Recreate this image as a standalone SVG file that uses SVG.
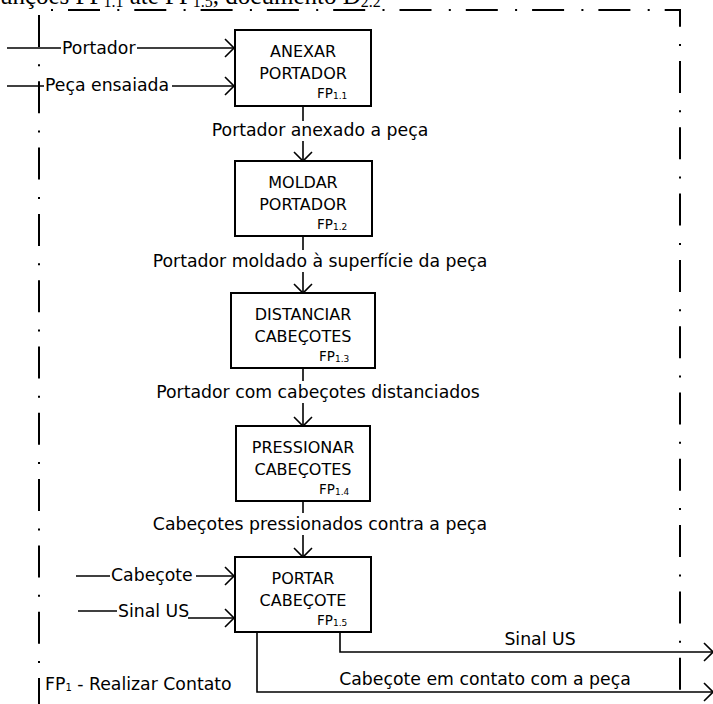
<svg xmlns="http://www.w3.org/2000/svg" width="713" height="704" viewBox="0 0 713 704">
  <defs>
    <marker id="arrow" markerUnits="userSpaceOnUse" markerWidth="14" markerHeight="22" refX="10" refY="9" orient="auto" overflow="visible">
      <path d="M1,0 L10,9 L1,18" fill="none" stroke="#000" stroke-width="1.6"/>
    </marker>
    <style>
      .box{fill:#fff;stroke:#000;stroke-width:2}
      .lbl{font-family:"DejaVu Sans",sans-serif;font-size:16px;text-anchor:middle;fill:#000}
      .fp{font-family:"DejaVu Sans",sans-serif;font-size:13.5px;fill:#000}
      .sub{font-size:9px}
      .cl{font-family:"DejaVu Sans",sans-serif;font-size:17.3px;fill:#000}
      .mid{text-anchor:middle}
      .wire{fill:none;stroke:#000;stroke-width:1.6}
      .arr{marker-end:url(#arrow)}
      .frame{fill:none;stroke:#000;stroke-width:2;stroke-dasharray:32 17.3 2 15}
      .cap{font-family:"Liberation Serif",serif;font-size:25px;fill:#000}
    </style>
  </defs>

  <!-- caption running off the top edge -->
  <text class="cap" x="-14" y="4">Funções FP<tspan font-size="16" dy="3">1.1</tspan><tspan dy="-3"> até FP</tspan><tspan font-size="16" dy="3">1.5</tspan><tspan dy="-3">, documento D</tspan><tspan font-size="16" dy="3">2.2</tspan></text>

  <!-- dash-dot system boundary -->
  <g id="boundary">
    <path class="frame" d="M39,15 V704"/>
    <path class="frame" d="M51,10 H680 V704" stroke-dashoffset="49.3"/>
    <text class="cl" x="45" y="690" font-size="16.5">FP<tspan font-size="10" dy="1">1</tspan><tspan dy="-1"> - Realizar Contato</tspan></text>
  </g>

  <!-- connectors -->
  <g id="connectors">
    <!-- inputs to FP1.1 -->
    <path class="wire" d="M7,48 H61"/>
    <text class="cl" x="62" y="54">Portador</text>
    <path class="wire arr" d="M137,48 H234"/>
    <path class="wire" d="M7,86 H44"/>
    <text class="cl" x="45" y="91">Peça ensaiada</text>
    <path class="wire arr" d="M172,86 H234"/>

    <!-- FP1.1 -> FP1.2 -->
    <path class="wire" d="M303,106 V121"/>
    <text class="cl mid" x="320" y="136">Portador anexado a peça</text>
    <path class="wire arr" d="M303,141 V161"/>

    <!-- FP1.2 -> FP1.3 -->
    <path class="wire" d="M303,236 V250"/>
    <text class="cl mid" x="320" y="267">Portador moldado à superfície da peça</text>
    <path class="wire arr" d="M303,272 V293"/>

    <!-- FP1.3 -> FP1.4 -->
    <path class="wire" d="M303,368 V381"/>
    <text class="cl mid" x="318" y="398">Portador com cabeçotes distanciados</text>
    <path class="wire arr" d="M303,403 V426"/>

    <!-- FP1.4 -> FP1.5 -->
    <path class="wire" d="M303,501 V513"/>
    <text class="cl mid" x="320" y="530">Cabeçotes pressionados contra a peça</text>
    <path class="wire arr" d="M303,535 V557"/>

    <!-- inputs to FP1.5 -->
    <path class="wire" d="M76,576 H110"/>
    <text class="cl" x="111" y="581">Cabeçote</text>
    <path class="wire arr" d="M196,576 H234"/>
    <path class="wire" d="M78,611 H117"/>
    <text class="cl" x="118" y="617">Sinal US</text>
    <path class="wire arr" d="M188,618 H234"/>

    <!-- outputs of FP1.5 -->
    <path class="wire arr" d="M340,632 V652 H713"/>
    <text class="cl mid" x="540" y="645">Sinal US</text>
    <path class="wire arr" d="M257,632 V692 H713"/>
    <text class="cl mid" x="485" y="685">Cabeçote em contato com a peça</text>
  </g>

  <!-- function blocks -->
  <g id="fp11">
    <rect class="box" x="235" y="30" width="136" height="76"/>
    <text class="lbl" x="303" y="56.5">ANEXAR</text>
    <text class="lbl" x="303" y="78.5">PORTADOR</text>
    <text class="fp" x="317" y="97.5">FP<tspan class="sub" dy="1">1.1</tspan></text>
  </g>
  <g id="fp12">
    <rect class="box" x="235" y="161" width="137" height="75"/>
    <text class="lbl" x="303" y="187.5">MOLDAR</text>
    <text class="lbl" x="303" y="209.5">PORTADOR</text>
    <text class="fp" x="317" y="228.5">FP<tspan class="sub" dy="1">1.2</tspan></text>
  </g>
  <g id="fp13">
    <rect class="box" x="231" y="293" width="144" height="75"/>
    <text class="lbl" x="303" y="319.5">DISTANCIAR</text>
    <text class="lbl" x="303" y="341.5">CABEÇOTES</text>
    <text class="fp" x="319" y="360.5">FP<tspan class="sub" dy="1">1.3</tspan></text>
  </g>
  <g id="fp14">
    <rect class="box" x="236" y="426" width="134" height="75"/>
    <text class="lbl" x="303" y="452.5">PRESSIONAR</text>
    <text class="lbl" x="303" y="474.5">CABEÇOTES</text>
    <text class="fp" x="319" y="493.5">FP<tspan class="sub" dy="1">1.4</tspan></text>
  </g>
  <g id="fp15">
    <rect class="box" x="235" y="557" width="136" height="75"/>
    <text class="lbl" x="303" y="583.5">PORTAR</text>
    <text class="lbl" x="303" y="605.5">CABEÇOTE</text>
    <text class="fp" x="317" y="624.5">FP<tspan class="sub" dy="1">1.5</tspan></text>
  </g>
</svg>
